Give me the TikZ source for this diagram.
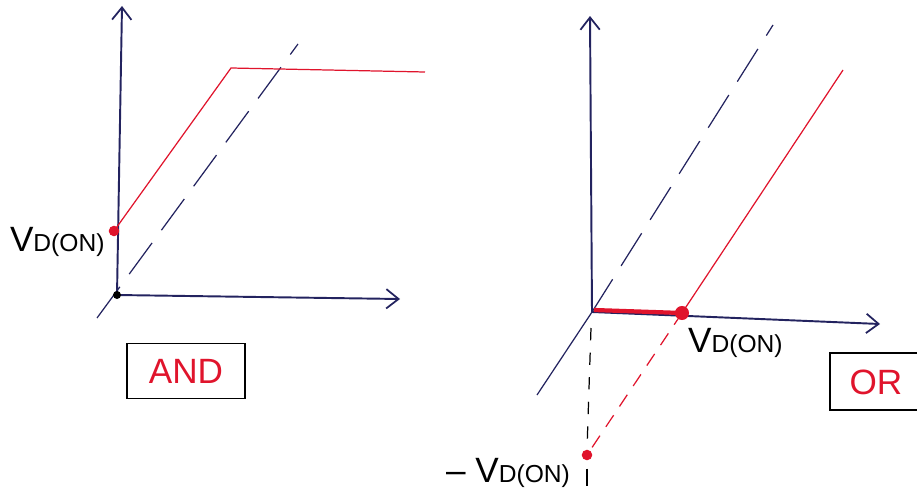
\documentclass[tikz,border=0pt]{standalone}
\usepackage{fontspec}
\setmainfont{Liberation Sans}
\usetikzlibrary{arrows.meta,positioning,calc}
\definecolor{inkblue}{HTML}{23235F}
\definecolor{inkred}{HTML}{E0142C}
\newcommand{\vdon}{V{\fontsize{14}{16}\selectfont D(ON)}}
\tikzset{
  axis/.style={draw=inkblue,line width=1.1pt,-{Straight Barb[length=7pt,width=11pt,line width=1pt]}},
  guide/.style={draw=inkblue,line width=0.7pt,dash pattern=on 22pt off 9pt},
  redline/.style={draw=inkred,line width=0.7pt},
  reddash/.style={draw=inkred,line width=0.7pt,dash pattern=on 8pt off 6pt},
  blackdash/.style={draw=black,line width=0.7pt,dash pattern=on 7pt off 7pt},
  reddot/.style={circle,fill=inkred,inner sep=0pt,minimum size=6pt},
  lab/.style={font=\fontsize{20}{22}\selectfont,text=black,inner sep=1pt},
  gatebox/.style={draw=black,line width=0.9pt,inner sep=0pt,font=\fontsize{20}{22}\selectfont,text=inkred}
}
\begin{document}
\begin{tikzpicture}[x=0.02cm,y=-0.02cm]
\useasboundingbox (0,0) rectangle (917,497);
% AND graph
\coordinate (o1) at (117,295);
\coordinate (y1) at (122,6);
\coordinate (x1) at (400,299);
\coordinate (knee) at (231,68);
\coordinate (sat) at (425,72);
\draw[guide] (97,318) -- (298,44);
\draw[axis] (o1) -- (y1);
\draw[axis] (o1) -- (x1);
\node[reddot] (v1) at (114,231) {};
\draw[redline] (v1.center) -- (knee) -- (sat);
\fill[black] (o1) circle (4);
\node[lab,left=1pt of v1,yshift=-6pt] (vlab1) {\vdon};
\node[gatebox,minimum width=118*0.02cm,minimum height=55*0.02cm] (and) at (186,371) {AND};
% OR graph
\coordinate (o2) at (592,312);
\coordinate (y2) at (590,16);
\coordinate (x2) at (880,324);
\coordinate (up2) at (773,25);
\coordinate (dn2) at (537,395);
\coordinate (top2) at (843,70);
\draw[guide] (o2) -- (up2);
\draw[draw=inkblue,line width=0.7pt] (o2) -- (dn2);
\draw[axis] (o2) -- (y2);
\draw[axis] (o2) -- (x2);
\node[reddot,minimum size=8pt] (v2) at (682,313) {};
\node[reddot] (mv) at (587,455) {};
\draw[redline] (v2.center) -- (top2);
\draw[reddash] (v2.center) -- (mv.center);
\draw[draw=inkred,line width=2.4pt] (594,310) -- (v2.center);
\draw[blackdash] (591,328) -- (mv.north);
\draw[black,line width=0.7pt] (mv.south) ++(0,8) -- ++(0,17);
\node[lab,anchor=west] (vlab2) at (686,343) {\vdon};
\node[lab,anchor=east] (vlab3) at (572,473) {-- \vdon};
\coordinate (orbl) at (830,410);
\coordinate (ortl) at (830,353);
\draw[black,line width=0.9pt] (917,353) -- (ortl) -- (orbl) -- (917,410);
\node[font=\fontsize{20}{22}\selectfont,text=inkred] (orlab) at (876,382) {OR};
\end{tikzpicture}
\end{document}
